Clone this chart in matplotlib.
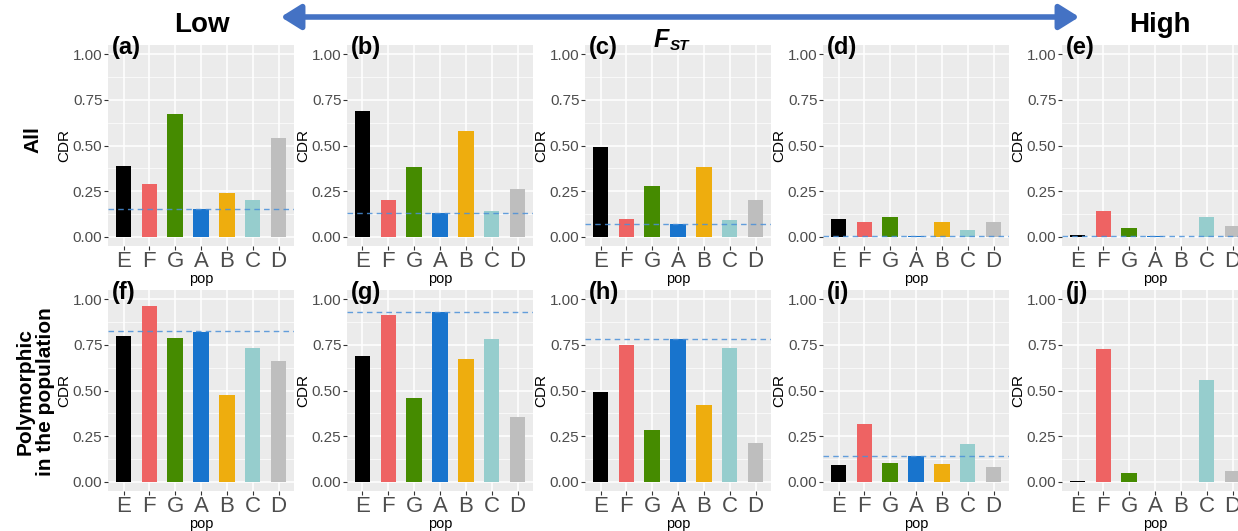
import matplotlib.pyplot as plt
import numpy as np

plt.rcParams["font.family"] = ["Liberation Sans", "DejaVu Sans"]

pops = ["E", "F", "G", "A", "B", "C", "D"]
colors = ["#000000", "#EE6363", "#458B00", "#1874CD", "#EEAD0E", "#96CDCD", "#BEBEBE"]

cdr_a = [0.39, 0.29, 0.67, 0.15, 0.24, 0.20, 0.54]
cdr_b = [0.69, 0.20, 0.38, 0.13, 0.58, 0.14, 0.26]
cdr_c = [0.49, 0.10, 0.28, 0.07, 0.38, 0.09, 0.20]
cdr_d = [0.10, 0.08, 0.11, 0.007, 0.08, 0.04, 0.08]
cdr_e = [0.009, 0.14, 0.05, 0.007, 0.0, 0.11, 0.06]
cdr_f = [0.80, 0.96, 0.79, 0.82, 0.475, 0.73, 0.66]
cdr_g = [0.69, 0.915, 0.46, 0.93, 0.67, 0.78, 0.355]
cdr_h = [0.49, 0.75, 0.285, 0.78, 0.42, 0.73, 0.21]
cdr_i = [0.095, 0.315, 0.105, 0.14, 0.10, 0.205, 0.08]
cdr_j = [0.007, 0.725, 0.048, 0.0, 0.0, 0.555, 0.062]

# reference line = value of pop A, none in (j)
ref_lines = [0.15, 0.13, 0.07, 0.007, 0.007, 0.825, 0.93, 0.78, 0.14, None]

panel_data = [cdr_a, cdr_b, cdr_c, cdr_d, cdr_e, cdr_f, cdr_g, cdr_h, cdr_i, cdr_j]
tags = ["(a)", "(b)", "(c)", "(d)", "(e)", "(f)", "(g)", "(h)", "(i)", "(j)"]

W, H = 1238, 531
fig = plt.figure(figsize=(W / 100, H / 100), dpi=100)

lefts = [108, 347, 585, 823, 1062]
tops = [45, 290]
pw, ph = 186, 201

x = np.arange(len(pops))
for k, vals in enumerate(panel_data):
    row, col = divmod(k, 5)
    ax = fig.add_axes([lefts[col] / W, 1 - (tops[row] + ph) / H, pw / W, ph / H])
    ax.set_facecolor("#EBEBEB")
    ax.set_axisbelow(True)
    ax.bar(x, vals, width=0.6, color=colors, linewidth=0)
    if ref_lines[k] is not None:
        ax.axhline(ref_lines[k], color="#4A90D9", ls=(0, (4, 3)), lw=1.0, alpha=0.85)
    ax.set_xlim(-0.6, 6.6)
    ax.set_ylim(-0.05, 1.05)
    ax.set_yticks([0, 0.25, 0.5, 0.75, 1.0])
    ax.set_yticks([0.125, 0.375, 0.625, 0.875], minor=True)
    ax.set_yticklabels(["0.00", "0.25", "0.50", "0.75", "1.00"], fontsize=11, color="#4D4D4D")
    ax.set_xticks(x)
    ax.set_xticklabels(pops, fontsize=16, color="#4D4D4D")
    ax.grid(True, which="major", color="white", lw=1.1)
    ax.grid(True, which="minor", axis="y", color="white", lw=0.5)
    ax.tick_params(which="major", length=3, color="#333333", pad=1)
    ax.tick_params(axis="x", pad=0.5)
    ax.tick_params(which="minor", length=0)
    for s in ax.spines.values():
        s.set_visible(False)
    ax.set_ylabel("CDR", fontsize=11, labelpad=1)
    ax.set_xlabel("pop", fontsize=10.5, labelpad=0)
    ax.text(0.02, 1.045, tags[k], transform=ax.transAxes, fontsize=17,
            fontweight="bold", va="top", ha="left")

# row labels
fig.text(33 / W, 1 - 140 / H, "All", rotation=90, fontsize=15, fontweight="bold",
         ha="center", va="center")
fig.text(35 / W, 1 - 392 / H, "Polymorphic\nin the population", rotation=90,
         fontsize=15, fontweight="bold", ha="center", va="center", linespacing=1.1)

# Low -> High arrow
fig.text(202 / W, 1 - 25 / H, "Low", fontsize=20, fontweight="bold", ha="center", va="center",
         family=["Liberation Sans Narrow", "Liberation Sans"])
fig.text(1160 / W, 1 - 25 / H, "High", fontsize=20, fontweight="bold", ha="center", va="center",
         family=["Liberation Sans Narrow", "Liberation Sans"])
fig.add_artist(plt.matplotlib.patches.FancyArrowPatch(
    (278 / W, 1 - 17 / H), (1082 / W, 1 - 17 / H), transform=fig.transFigure,
    arrowstyle="<|-|>,head_length=8,head_width=5", color="#4472C4", lw=4,
    mutation_scale=1.5))
fig.text(669 / W, 1 - 40 / H, "F", fontsize=18, fontweight="bold", style="italic",
         ha="right", va="center")
fig.text(670 / W, 1 - 46 / H, "ST", fontsize=11, fontweight="bold", style="italic",
         ha="left", va="center")

fig.savefig("out.png", dpi=100)
